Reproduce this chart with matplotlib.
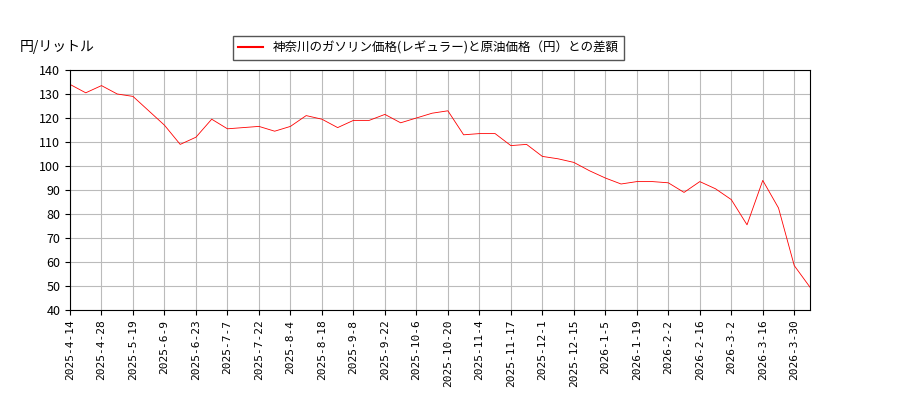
import matplotlib
matplotlib.use("Agg")
import matplotlib.pyplot as plt

plt.rcParams["font.family"] = ["Noto Sans CJK JP", "DejaVu Sans"]

tick_labels = ["2025-4-14", "2025-4-28", "2025-5-19", "2025-6-9", "2025-6-23", "2025-7-7",
               "2025-7-22", "2025-8-4", "2025-8-18", "2025-9-8", "2025-9-22", "2025-10-6",
               "2025-10-20", "2025-11-4", "2025-11-17", "2025-12-1", "2025-12-15", "2026-1-5",
               "2026-1-19", "2026-2-2", "2026-2-16", "2026-3-2", "2026-3-16", "2026-3-30"]
diff_values = [134, 130.5, 133.5, 130, 129, 123, 117, 109, 112, 119.5, 115.5, 116,
               116.5, 114.5, 116.5, 121, 119.5, 116, 119, 119, 121.5, 118, 120, 122,
               123, 113, 113.5, 113.5, 108.5, 109, 104, 103, 101.5, 98, 95, 92.5,
               93.5, 93.5, 93, 89, 93.5, 90.5, 86, 75.5, 94, 82.5, 58.5, 49.5]

fig = plt.figure(figsize=(9, 4), dpi=100)
ax = fig.add_axes([70 / 900, 90 / 400, 740 / 900, 240 / 400])
x = list(range(len(diff_values)))
ax.plot(x, diff_values, color="red", linewidth=0.6)
ax.plot([], [], color="red", linewidth=1.5,
        label="神奈川のガソリン価格(レギュラー)と原油価格（円）との差額")
ax.set_xlim(0, len(diff_values) - 1)
ax.set_ylim(40, 140)
ax.set_yticks(range(40, 141, 10))
ax.set_xticks(range(0, 2 * len(tick_labels), 2))
ax.set_xticklabels(tick_labels, rotation=90, fontsize=8, family=["DejaVu Sans Mono"])
ax.tick_params(axis="y", labelsize=9)
ax.grid(color="#bbbbbb", linewidth=0.8)
fig.text(20 / 900, 1 - 47 / 400, "円/リットル", fontsize=10, va="center")
fig.legend(loc="center", bbox_to_anchor=(428 / 900, 1 - 48 / 400), fontsize=9,
           fancybox=False, edgecolor="#555555", framealpha=1)
fig.savefig("out.png")
